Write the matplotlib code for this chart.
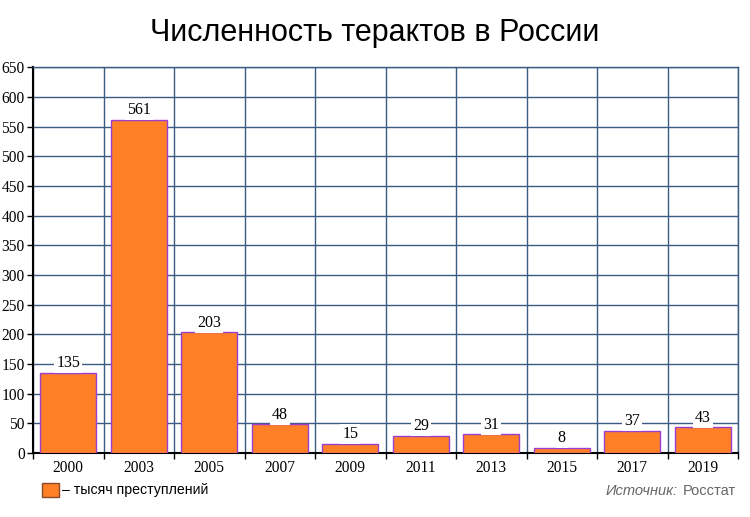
import matplotlib.pyplot as plt
import numpy as np

years = ['2000', '2003', '2005', '2007', '2009', '2011', '2013', '2015', '2017', '2019']
values = [135, 561, 203, 48, 15, 29, 31, 8, 37, 43]

fig = plt.figure(figsize=(7.5, 5.17), dpi=100)
ax = fig.add_axes([0.044, 0.124, 0.940, 0.746])

x = np.arange(len(years))
ax.bar(x, values, width=0.79, color='#ff8026', edgecolor='#9b3fcf', linewidth=1, zorder=3)

for xi, v in zip(x, values):
    ax.text(xi, v + 3, str(v), ha='center', va='bottom', fontsize=11.5,
            family='Liberation Serif', zorder=4,
            bbox=dict(facecolor='white', edgecolor='none', pad=1.5))

ax.set_xlim(-0.5, len(years) - 0.5)
ax.set_ylim(0, 650)
ax.set_yticks(np.arange(0, 651, 50))
ax.set_xticks(x)
ax.set_xticklabels(years)
ax.set_xticks(np.arange(-0.5, len(years)), minor=True)
ax.tick_params(axis='x', which='major', length=0, pad=5)
ax.tick_params(axis='x', which='minor', length=4, direction='out', width=1)
ax.tick_params(axis='y', length=4, width=1, pad=2)
for lab in ax.get_xticklabels() + ax.get_yticklabels():
    lab.set_family('Liberation Serif')
    lab.set_fontsize(11.2)

ax.grid(True, axis='y', which='major', color='#3b5b82', linewidth=1, zorder=0)
ax.grid(True, axis='x', which='minor', color='#3b5b82', linewidth=1, zorder=0)
for s in ['top', 'right']:
    ax.spines[s].set_color('#3b5b82')
    ax.spines[s].set_linewidth(1)
ax.spines['left'].set_linewidth(1.5)
ax.spines['bottom'].set_linewidth(1.5)

fig.text(0.5, 1 - 33 / 517, 'Численность терактов в России', ha='center', va='center',
         fontsize=22, family='Liberation Sans')

# legend
fig.patches.append(plt.Rectangle((42 / 750, 1 - 497 / 517), 17 / 750, 14 / 517,
                                 transform=fig.transFigure, facecolor='#ff8026',
                                 edgecolor='#8a4a2a', linewidth=1))
fig.text(62 / 750, 1 - 490 / 517, '– тысяч преступлений', ha='left', va='center',
         fontsize=10.2, family='Liberation Sans')

fig.text(0.981, 1 - 491 / 517, 'Росстат', ha='right', va='center',
         fontsize=10.5, family='Liberation Sans', color='#666666')
fig.text(0.904, 1 - 491 / 517, 'Источник:', ha='right', va='center',
         fontsize=10.5, family='Liberation Sans', color='#666666', style='italic')

fig.savefig('out.png', dpi=100)
